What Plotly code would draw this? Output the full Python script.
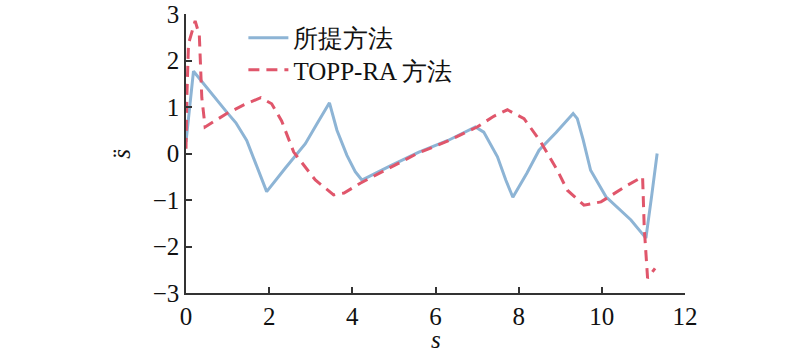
import plotly.graph_objects as go

# Proposed method (所提方法)
prop_s = [0.0, 0.18, 0.98, 1.2, 1.46, 1.74, 1.94, 2.4, 2.87, 3.15, 3.45, 3.63, 3.87, 4.07, 4.23,
          4.9, 5.6, 6.3, 6.96, 7.16, 7.49, 7.69, 7.86, 8.2, 8.49, 8.9, 9.31, 9.41, 9.55, 9.73,
          10.1, 10.7, 11.06, 11.2, 11.33]
prop_acc = [0.25, 1.77, 0.89, 0.66, 0.28, -0.36, -0.82, -0.3, 0.21, 0.64, 1.09, 0.5, -0.04, -0.39, -0.57,
            -0.27, 0.03, 0.28, 0.57, 0.46, -0.07, -0.57, -0.94, -0.42, 0.07, 0.45, 0.86, 0.75, 0.3, -0.36,
            -0.93, -1.43, -1.82, -0.9, 0.0]

# TOPP-RA
topp_s = [0.0, 0.02, 0.06, 0.22, 0.32, 0.38, 0.46, 0.98, 1.4, 1.8, 2.06, 2.3, 2.59, 3.11, 3.55, 3.8,
          4.19, 4.9, 5.56, 6.3, 7.0, 7.4, 7.73, 8.13, 8.53, 8.93, 9.17, 9.57, 9.98, 10.62, 10.98,
          11.02, 11.1, 11.28]
topp_acc = [0.1, 1.2, 2.36, 2.85, 2.55, 1.2, 0.57, 0.86, 1.05, 1.2, 1.07, 0.7, 0.03, -0.57, -0.89, -0.85,
            -0.64, -0.3, 0.0, 0.27, 0.57, 0.8, 0.94, 0.75, 0.25, -0.36, -0.79, -1.11, -1.04, -0.68, -0.5,
            -1.6, -2.68, -2.47]

x_ticks = [0, 2, 4, 6, 8, 10, 12]
y_ticks = [-3, -2, -1, 0, 1, 2, 3]

FONT = "'Liberation Serif', 'Times New Roman', 'DejaVu Serif', serif"

fig = go.Figure()
fig.add_trace(go.Scatter(x=prop_s, y=prop_acc, mode="lines", name="所提方法", legend="legend",
                         line=dict(color="#8DB4D5", width=3)))
fig.add_trace(go.Scatter(x=topp_s, y=topp_acc, mode="lines", name="TOPP-RA 方法", legend="legend2",
                         line=dict(color="#E0566B", width=3, dash="11px,7px")))

axis_common = dict(showgrid=False, zeroline=False, showline=True, linecolor="#333333", linewidth=1.5,
                   ticks="inside", ticklen=6, tickwidth=1.5, tickcolor="#333333", automargin=False,
                   ticklabeloverflow="allow",
                   tickfont=dict(family=FONT, size=25, color="#111111"))

legend_common = dict(x=0.115, xanchor="left", yanchor="middle", bgcolor="rgba(0,0,0,0)",
                     font=dict(family=FONT, size=25, color="#111111"), itemwidth=40)

fig.update_layout(
    width=800, height=356,
    margin=dict(l=186, r=115, t=14, b=63),
    plot_bgcolor="white", paper_bgcolor="white",
    font=dict(family=FONT, size=25, color="#111111"),
    xaxis=dict(range=[0, 12], tickvals=x_ticks, **axis_common),
    yaxis=dict(range=[-3, 3], tickvals=y_ticks, **axis_common),
    showlegend=True,
    legend=dict(y=0.914, **legend_common),
    legend2=dict(y=0.799, **legend_common),
    annotations=[
        dict(text="<i>s</i>", x=0.5, y=-0.165, xref="paper", yref="paper", showarrow=False,
             xanchor="center", yanchor="middle", font=dict(family=FONT, size=25)),
        dict(text="<i>s\u0308</i>", x=-0.13, y=0.5, xref="paper", yref="paper", showarrow=False,
             textangle=-90, xanchor="center", yanchor="middle", font=dict(family=FONT, size=25)),
    ],
)

fig.write_html("out.html", config={"displayModeBar": False},
               post_script="document.body.style.margin='0px';")
